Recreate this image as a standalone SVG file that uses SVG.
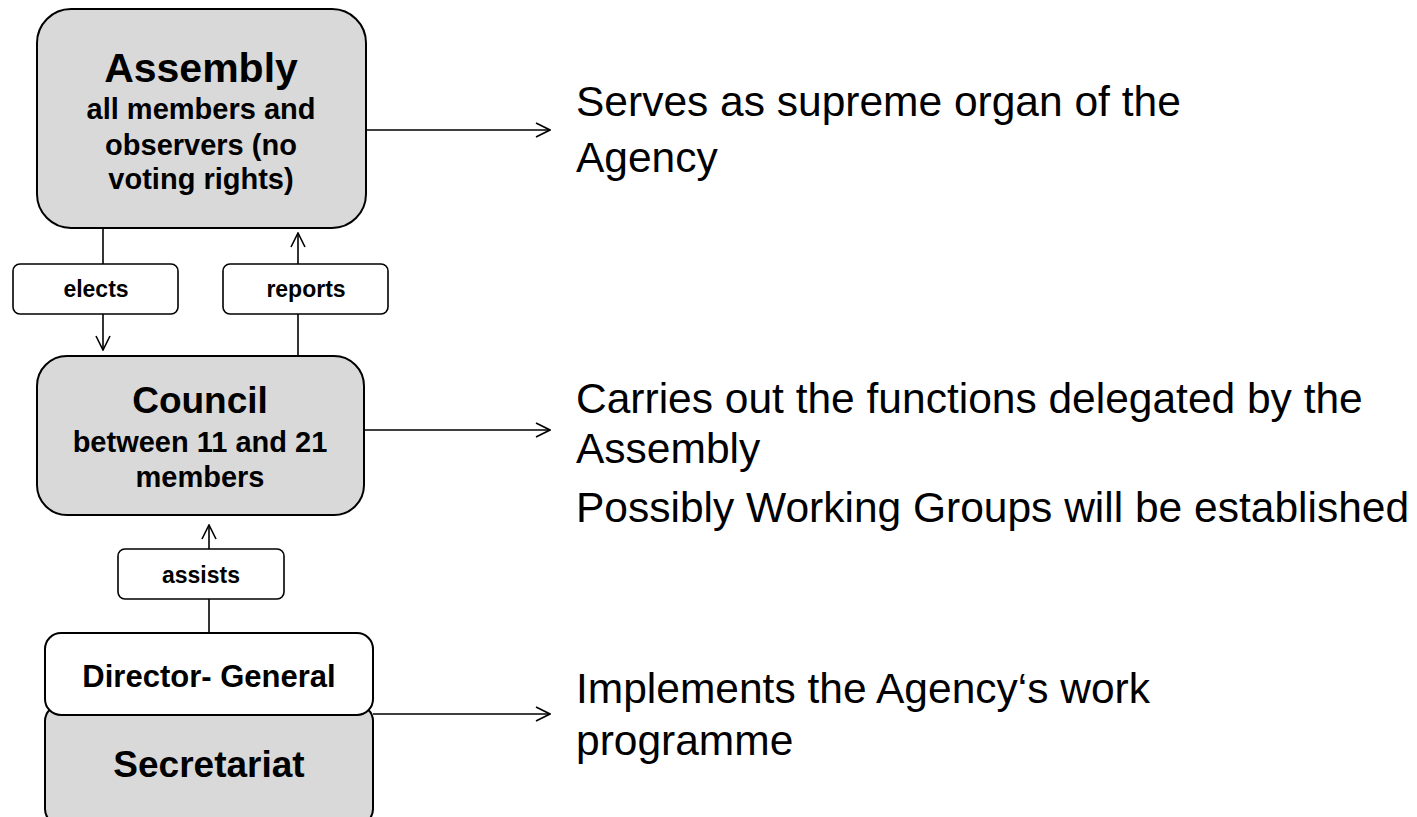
<svg xmlns="http://www.w3.org/2000/svg" width="1417" height="817" viewBox="0 0 1417 817">
<defs>
<marker id="arr" markerWidth="16" markerHeight="16" viewBox="0 0 16 16" refX="15" refY="8" orient="auto" markerUnits="userSpaceOnUse">
<path d="M1,1 L15,8 L1,15" fill="none" stroke="#000" stroke-width="1.6"/>
</marker>
<style>
.box{fill:#d9d9d9;stroke:#000;stroke-width:2}
.wbox{fill:#fff;stroke:#000;stroke-width:2}
.lab{fill:#fff;stroke:#000;stroke-width:1.6}
.ln{fill:none;stroke:#000;stroke-width:1.6}
text{font-family:"Liberation Sans",Arial,sans-serif;fill:#000}
.b{font-weight:bold;text-anchor:middle}
.r{font-size:42.5px}
</style>
</defs>
<rect width="1417" height="817" fill="#fff"/>
<g id="connectors">
<line class="ln" x1="103" y1="228" x2="103" y2="264"/>
<line class="ln" x1="103" y1="314" x2="103" y2="350" marker-end="url(#arr)"/>
<line class="ln" x1="298" y1="356" x2="298" y2="314"/>
<line class="ln" x1="298" y1="264" x2="298" y2="233" marker-end="url(#arr)"/>
<line class="ln" x1="209" y1="633" x2="209" y2="599"/>
<line class="ln" x1="209" y1="549" x2="209" y2="525" marker-end="url(#arr)"/>
<line class="ln" x1="366" y1="130" x2="550" y2="130" marker-end="url(#arr)"/>
<line class="ln" x1="364" y1="430" x2="550" y2="430" marker-end="url(#arr)"/>
<line class="ln" x1="373" y1="714" x2="550" y2="714" marker-end="url(#arr)"/>
</g>
<g id="assembly">
<rect class="box" x="37" y="9" width="329" height="219" rx="34"/>
<text class="b" x="201" y="82" font-size="41">Assembly</text>
<text class="b" x="201" y="119" font-size="29">all members and</text>
<text class="b" x="201" y="155" font-size="29">observers (no</text>
<text class="b" x="201" y="189" font-size="29">voting rights)</text>
</g>
<g id="elects">
<rect class="lab" x="13" y="264" width="165" height="50" rx="7"/>
<text class="b" x="96" y="297" font-size="23">elects</text>
</g>
<g id="reports">
<rect class="lab" x="223" y="264" width="165" height="50" rx="7"/>
<text class="b" x="306" y="297" font-size="23">reports</text>
</g>
<g id="council">
<rect class="box" x="37" y="356" width="327" height="159" rx="30"/>
<text class="b" x="200" y="413" font-size="37">Council</text>
<text class="b" x="200" y="452" font-size="29">between 11 and 21</text>
<text class="b" x="200" y="487" font-size="29">members</text>
</g>
<g id="assists">
<rect class="lab" x="118" y="549" width="166" height="50" rx="7"/>
<text class="b" x="201" y="583" font-size="23">assists</text>
</g>
<g id="secretariat">
<rect class="box" x="45" y="705" width="328" height="120" rx="16"/>
<text class="b" x="209" y="777" font-size="37">Secretariat</text>
</g>
<g id="director-general">
<rect class="wbox" x="45" y="633" width="328" height="82" rx="16"/>
<text class="b" x="209" y="687" font-size="31">Director- General</text>
</g>
<g id="descriptions">
<text class="r" x="576" y="116">Serves as supreme organ of the</text>
<text class="r" x="576" y="172">Agency</text>
<text class="r" x="576" y="413">Carries out the functions delegated by the</text>
<text class="r" x="576" y="463">Assembly</text>
<text class="r" x="576" y="522">Possibly Working Groups will be established</text>
<text class="r" x="576" y="703">Implements the Agency‘s work</text>
<text class="r" x="576" y="755">programme</text>
</g>
</svg>
